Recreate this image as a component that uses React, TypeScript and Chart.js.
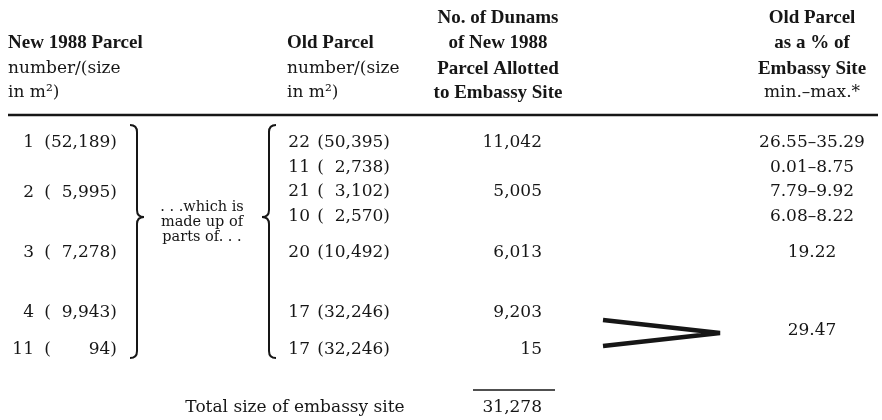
import React, { useEffect, useRef } from "react";
import { Chart, registerables } from "chart.js";

Chart.register(...registerables);

// ---- table data ----
const newParcelNumbers = ["1", "2", "3", "4", "11"];
const newParcelSizes = ["52,189", "5,995", "7,278", "9,943", "94"];
const newParcelRows = [143, 193, 253, 313, 350];

const oldParcelNumbers = ["22", "11", "21", "10", "20", "17", "17"];
const oldParcelSizes = ["50,395", "2,738", "3,102", "2,570", "10,492", "32,246", "32,246"];
const oldParcelRows = [143, 168, 192, 217, 253, 313, 350];

const dunamsAllotted = ["11,042", "5,005", "6,013", "9,203", "15"];
const dunamsRows = [143, 192, 253, 313, 350];

const percentOfSite = ["26.55–35.29", "0.01–8.75", "7.79–9.92", "6.08–8.22", "19.22", "29.47"];
const percentRows = [143, 168, 192, 217, 253, 331];

const totalLabel = "Total size of embassy site";
const totalValue = "31,278";

const headerNewTitle = "New 1988 Parcel";
const headerOldTitle = "Old Parcel";
const headerSizeUnit = ["number/(size", "in m²)"];
const headerDunams = ["No. of Dunams", "of New 1988", "Parcel Allotted", "to Embassy Site"];
const headerPercent = ["Old Parcel", "as a % of", "Embassy Site"];
const headerPercentRange = "min.–max.*";
const middleNote = [". . .which is", "made up of", "parts of. . ."];

// ---- layout anchors (value space of the x / y scales) ----
const headerRows = [18, 43, 69, 93];
const noteRows = [207, 222, 237];

const SERIF = "'DejaVu Serif', serif";
const BOLD = "bold 19px 'Liberation Serif', serif";
const BODY = "17px " + SERIF;
const SMALL = "14.5px " + SERIF;
const INK = "#161616";

function textSet(
  texts: string[],
  xs: number,
  ys: number[],
  font: string,
  align: CanvasTextAlign,
  parenTemplate?: string
) {
  return {
    type: "scatter" as const,
    isText: true,
    texts,
    font,
    align,
    parenTemplate,
    pointRadius: 0,
    data: texts.map((_, i) => ({ x: xs, y: ys[i] })),
  };
}

function lineSet(pts: { x: number; y: number }[], width: number) {
  return {
    type: "scatter" as const,
    showLine: true,
    pointRadius: 0,
    borderColor: INK,
    borderWidth: width,
    borderCapStyle: "butt",
    borderJoinStyle: "bevel",
    data: pts,
  };
}

const textPlugin = {
  id: "tableText",
  afterDatasetsDraw(chart: any) {
    const ctx = chart.ctx as CanvasRenderingContext2D;
    ctx.save();
    ctx.fillStyle = INK;
    ctx.textBaseline = "middle";
    chart.data.datasets.forEach((ds: any, i: number) => {
      if (!ds.isText) return;
      const meta = chart.getDatasetMeta(i);
      ctx.font = ds.font;
      ctx.textAlign = ds.align;
      meta.data.forEach((el: any, j: number) => {
        ctx.fillText(ds.texts[j], el.x, el.y);
        if (ds.parenTemplate) {
          const w = ctx.measureText(ds.parenTemplate).width;
          ctx.textAlign = "right";
          ctx.fillText("(", el.x - w, el.y);
          ctx.textAlign = ds.align;
        }
      });
    });
    // braces
    const xs = chart.scales.x;
    const ys = chart.scales.y;
    const brace = (cx: number, y1: number, y2: number, tip: number, dir: number) => {
      const X = xs.getPixelForValue(cx);
      const T = ys.getPixelForValue(y1);
      const B = ys.getPixelForValue(y2);
      const M = ys.getPixelForValue(tip);
      const w = 7;
      ctx.beginPath();
      ctx.moveTo(X - dir * w, T);
      ctx.quadraticCurveTo(X, T, X, T + w);
      ctx.lineTo(X, M - w);
      ctx.quadraticCurveTo(X, M, X + dir * w, M);
      ctx.quadraticCurveTo(X, M, X, M + w);
      ctx.lineTo(X, B - w);
      ctx.quadraticCurveTo(X, B, X - dir * w, B);
      ctx.lineWidth = 2;
      ctx.strokeStyle = INK;
      ctx.stroke();
    };
    brace(137, 125, 358, 217, 1);
    brace(269, 125, 358, 217, -1);
    ctx.restore();
  },
};

const bgPlugin = {
  id: "bg",
  beforeDraw(chart: any) {
    const ctx = chart.ctx;
    ctx.save();
    ctx.fillStyle = "#ffffff";
    ctx.fillRect(0, 0, chart.width, chart.height);
    ctx.restore();
  },
};

export default function App() {
  const ref = useRef<HTMLCanvasElement>(null);
  useEffect(() => {
    if (!ref.current) return;
    const datasets: any[] = [
      textSet([headerNewTitle], 8, [43], BOLD, "left"),
      textSet(headerSizeUnit, 8, [69, 93], BODY, "left"),
      textSet([headerOldTitle], 287, [43], BOLD, "left"),
      textSet(headerSizeUnit, 287, [69, 93], BODY, "left"),
      textSet(headerDunams, 498, headerRows, BOLD, "center"),
      textSet(headerPercent, 812, headerRows.slice(0, 3), BOLD, "center"),
      textSet([headerPercentRange], 812, [93], BODY, "center"),
      textSet(newParcelNumbers, 34, newParcelRows, BODY, "right"),
      textSet(newParcelSizes.map((s) => s + ")"), 117, newParcelRows, BODY, "right", "00,000)"),
      textSet(oldParcelNumbers, 310, oldParcelRows, BODY, "right"),
      textSet(oldParcelSizes.map((s) => s + ")"), 390, oldParcelRows, BODY, "right", "00,000)"),
      textSet(middleNote, 202, noteRows, SMALL, "center"),
      textSet(dunamsAllotted, 542, dunamsRows, BODY, "right"),
      textSet(percentOfSite, 812, percentRows, BODY, "center"),
      textSet([totalLabel], 295, [408], BODY, "center"),
      textSet([totalValue], 542, [408], BODY, "right"),
      lineSet([{ x: 8, y: 115 }, { x: 878, y: 115 }], 2.5),
      lineSet([{ x: 473, y: 390 }, { x: 555, y: 390 }], 1.5),
      lineSet([{ x: 603, y: 320 }, { x: 720, y: 333 }, { x: 603, y: 346 }], 4.5),
    ];
    const chart = new Chart(ref.current, {
      type: "scatter",
      data: { datasets },
      options: {
        animation: false,
        responsive: true,
        maintainAspectRatio: false,
        layout: { padding: 0 },
        plugins: { legend: { display: false }, tooltip: { enabled: false } },
        events: [],
        scales: {
          x: { type: "linear", min: 0, max: 882, display: false },
          y: { type: "linear", min: 0, max: 420, reverse: true, display: false },
        },
      },
      plugins: [bgPlugin, textPlugin],
    });
    return () => chart.destroy();
  }, []);
  return (
    <div style={{ position: "absolute", left: 0, top: 0, width: 882, height: 420, background: "#fff" }}>
      <canvas ref={ref} />
    </div>
  );
}
